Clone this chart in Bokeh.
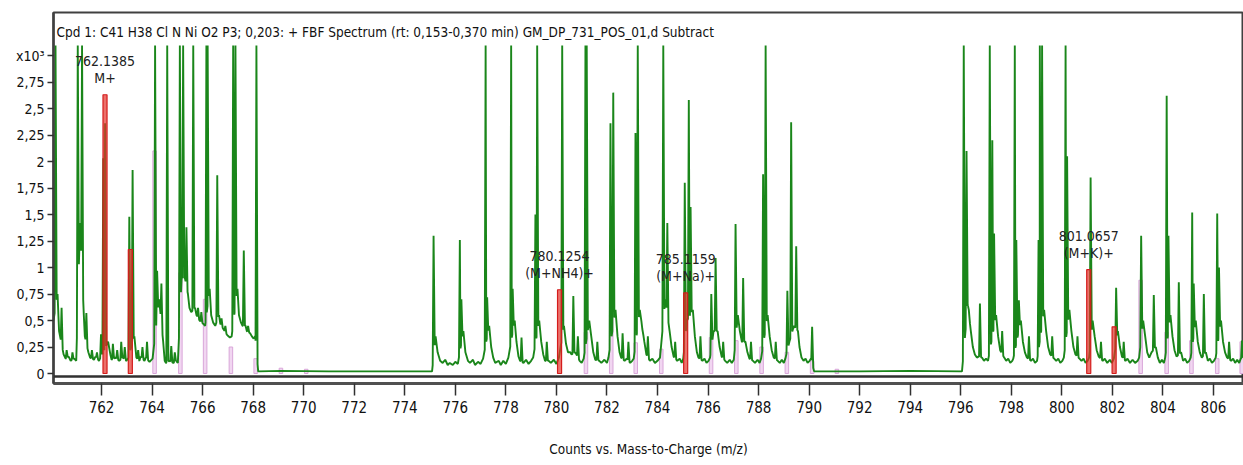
import numpy as np
from bokeh.plotting import figure
from bokeh.models import Range1d, Label, Span, FixedTicker, ColumnDataSource
from bokeh.embed import file_html
from bokeh.resources import INLINE
from bokeh.core.properties import value

FONT = "DejaVu Sans Condensed"

# ---------------- data ----------------
title_text = ("Cpd 1: C41 H38 Cl N Ni O2 P3; 0,203: + FBF Spectrum (rt: 0,153-0,370 min) "
              "GM_DP_731_POS_01,d  Subtract")
x_axis_title = "Counts vs. Mass-to-Charge (m/z)"

x_ticks = [762, 764, 766, 768, 770, 772, 774, 776, 778, 780, 782, 784, 786, 788, 790,
           792, 794, 796, 798, 800, 802, 804, 806]
y_ticks = [0, 0.25, 0.5, 0.75, 1, 1.25, 1.5, 1.75, 2, 2.25, 2.5, 2.75, 3]
y_tick_labels = ["0", "0,25", "0,5", "0,75", "1", "1,25", "1,5", "1,75", "2", "2,25",
                 "2,5", "2,75", "x10³"]

# profile spectrum: peak apexes (counts x10^3; 3.5 = off scale)
peak_mz = [760.18, 760.42, 760.62, 760.85, 761.06, 761.23, 761.4, 761.62, 761.82, 761.98,
           762.07, 762.14, 762.45, 762.62, 762.78, 762.92, 763.1, 763.23, 763.45, 763.62,
           763.8, 764.12, 764.2, 764.37, 764.6, 764.76, 764.9, 765.1, 765.23, 765.36,
           765.63, 765.82, 765.95, 766.15, 766.2, 766.58, 766.75, 766.9, 767.21, 767.3,
           767.63, 767.8, 768.13,
           775.14, 776.18, 776.24, 777.2, 777.26, 778.21, 778.27, 778.62, 779.17, 779.24,
           779.62, 780.23, 780.67, 780.85, 781.15, 781.2, 781.62, 782.14, 782.25, 782.62,
           782.85, 783.13, 783.22, 783.4, 783.62, 784.23, 784.39, 784.7, 785.08, 785.24,
           785.31, 785.7, 786.13, 786.3, 786.6, 787.09, 787.39, 787.7, 788.18, 788.28,
           788.68, 789.14, 789.29, 789.49, 790.12,
           796.12, 796.23, 796.32, 796.76, 797.15, 797.25, 797.32, 797.64, 798.14, 798.2,
           798.3, 798.7, 799.08, 799.13, 799.22, 799.62, 800.15, 800.21, 800.62, 801.14,
           801.55, 802.15, 802.45, 803.14, 803.64, 804.15, 804.22, 804.63, 805.16, 805.22,
           805.62, 806.15, 806.22, 806.62, 807.13]
peak_counts = [3.5, 0.62, 0.22, 0.2, 3.5, 3.5, 0.57, 0.22, 0.2, 0.37,
               2.03, 2.36, 0.28, 0.22, 0.3, 0.25, 1.48, 1.92, 0.22, 0.25,
               0.3, 3.5, 0.97, 0.85, 3.5, 0.26, 0.2, 3.5, 3.5, 1.38,
               3.5, 0.62, 0.58, 3.5, 3.5, 1.87, 0.52, 0.45, 3.5, 3.5,
               1.16, 0.45, 3.5,
               1.3, 1.26, 0.7, 3.5, 0.72, 3.5, 0.8, 0.34, 1.5, 3.5,
               0.3, 3.5, 0.73, 0.35, 3.5, 3.5, 0.3, 2.36, 2.65, 0.38,
               0.3, 2.27, 3.5, 0.42, 0.35, 3.5, 1.42, 0.3, 1.8, 2.58,
               1.57, 0.35, 0.75, 1.09, 0.3, 1.41, 0.9, 0.3, 1.88, 3.5,
               0.3, 0.78, 2.37, 1.2, 0.44,
               3.5, 2.1, 0.6, 0.66, 3.5, 2.2, 1.32, 0.4, 3.5, 1.26,
               0.69, 0.35, 1.26, 3.5, 3.5, 0.35, 3.5, 2.05, 0.35, 1.85,
               0.3, 0.81, 0.3, 1.3, 0.74, 2.62, 1.3, 0.86, 1.52, 0.85,
               0.75, 1.51, 1.0, 0.3, 0.31]

# profile spectrum: baseline / tails between peaks (counts x10^3)
baseline_mz = [760.10, 760.26, 760.32, 760.5, 760.58, 760.7, 760.78, 760.92, 761.0, 761.15,
               761.3, 761.34, 761.48, 761.55, 761.7, 761.76, 761.9, 762.26, 762.35, 762.4,
               762.55, 762.7, 762.85, 762.98, 763.05, 763.3, 763.38, 763.5, 763.55, 763.7,
               763.75, 763.9, 764.02, 764.28, 764.44, 764.5, 764.55, 764.68, 764.84, 764.95,
               765.02, 765.17, 765.3, 765.42, 765.48, 765.55, 765.7, 765.76, 765.88, 766.02,
               766.1, 766.28, 766.34, 766.42, 766.5, 766.65, 766.7, 766.82, 766.98, 767.08,
               767.15, 767.38, 767.44, 767.52, 767.58, 767.7, 767.75, 767.88, 767.95, 768.02,
               768.08, 768.2, 769.1, 771.0, 773.0, 775.08,
               775.22, 775.3, 775.4, 775.5, 775.6, 775.7, 775.78, 775.9, 776.0, 776.1,
               776.32, 776.4, 776.5, 776.58, 776.7, 776.78, 776.9, 777.0, 777.1, 777.34,
               777.42, 777.5, 777.58, 777.72, 777.8, 777.9, 778.0, 778.1, 778.35, 778.42,
               778.5, 778.56, 778.7, 778.8, 778.9, 779.0, 779.08, 779.32, 779.4, 779.48,
               779.55, 779.7, 779.78, 779.9, 780.0, 780.1, 780.3, 780.38, 780.46, 780.55,
               780.6, 780.75, 780.92, 781.0, 781.08, 781.3, 781.38, 781.46, 781.54, 781.7,
               781.78, 781.9, 782.0, 782.06, 782.34, 782.42, 782.5, 782.56, 782.7, 782.78,
               782.92, 783.0, 783.06, 783.3, 783.48, 783.56, 783.7, 783.8, 783.9, 784.0,
               784.1, 784.31, 784.48, 784.56, 784.64, 784.78, 784.88, 784.96, 785.02, 785.165,
               785.4, 785.48, 785.56, 785.62, 785.78, 785.86, 785.94, 786.02, 786.08, 786.22,
               786.38, 786.46, 786.54, 786.68, 786.76, 786.86, 786.94, 787.02, 787.18, 787.26,
               787.34, 787.48, 787.56, 787.64, 787.78, 787.86, 787.96, 788.04, 788.1, 788.36,
               788.44, 788.52, 788.6, 788.76, 788.84, 788.92, 789.0, 789.06, 789.22, 789.4,
               789.56, 789.62, 789.7, 789.78, 789.86, 789.94, 790.02, 790.07, 790.2, 792.0,
               794.0, 796.05,
               796.28, 796.4, 796.48, 796.56, 796.64, 796.7, 796.84, 796.92, 797.0, 797.08,
               797.4, 797.48, 797.56, 797.72, 797.8, 797.88, 797.96, 798.04, 798.08, 798.38,
               798.46, 798.54, 798.62, 798.78, 798.86, 798.94, 799.02, 799.3, 799.38, 799.46,
               799.54, 799.7, 799.78, 799.86, 799.94, 800.02, 800.08, 800.3, 800.38, 800.46,
               800.54, 800.7, 800.78, 800.86, 800.94, 801.02, 801.08, 801.22, 801.3, 801.38,
               801.46, 801.62, 801.7, 801.8, 801.9, 801.98, 802.06, 802.22, 802.3, 802.38,
               802.52, 802.6, 802.7, 802.8, 802.9, 803.0, 803.06, 803.22, 803.3, 803.38,
               803.46, 803.55, 803.72, 803.8, 803.88, 803.96, 804.04, 804.09, 804.3, 804.38,
               804.46, 804.54, 804.72, 804.8, 804.88, 804.96, 805.04, 805.1, 805.3, 805.38,
               805.46, 805.54, 805.7, 805.78, 805.86, 805.94, 806.02, 806.09, 806.3, 806.38,
               806.46, 806.54, 806.7, 806.78, 806.86, 806.94, 807.02, 807.08, 807.19]
baseline_counts = [0.5, 0.75, 0.4, 0.18, 0.14, 0.16, 0.12, 0.14, 0.12, 1.42,
                   0.55, 0.35, 0.2, 0.15, 0.13, 0.16, 0.12, 0.3, 0.18, 0.13,
                   0.15, 0.12, 0.15, 0.12, 0.14, 0.35, 0.15, 0.12, 0.16, 0.12,
                   0.15, 0.11, 0.14, 0.7, 0.3, 0.12, 0.1, 0.12, 0.1, 0.12,
                   0.1, 0.9, 0.9, 0.75, 0.62, 0.58, 0.62, 0.55, 0.5, 0.47,
                   0.45, 0.8, 0.55, 0.48, 0.45, 0.55, 0.47, 0.42, 0.36, 0.34,
                   0.35, 0.8, 0.55, 0.48, 0.45, 0.45, 0.4, 0.38, 0.35, 0.33,
                   0.35, 0.02, 0.025, 0.02, 0.02, 0.02,
                   0.35, 0.2, 0.12, 0.1, 0.13, 0.08, 0.1, 0.08, 0.11, 0.09,
                   0.4, 0.2, 0.12, 0.1, 0.13, 0.08, 0.11, 0.09, 0.14, 0.45,
                   0.25, 0.15, 0.1, 0.12, 0.08, 0.12, 0.09, 0.15, 0.5, 0.3,
                   0.16, 0.12, 0.1, 0.13, 0.09, 0.12, 0.15, 0.5, 0.3, 0.18,
                   0.12, 0.12, 0.1, 0.13, 0.09, 0.15, 0.45, 0.28, 0.2, 0.2,
                   0.18, 0.2, 0.12, 0.1, 0.14, 0.5, 0.35, 0.2, 0.13, 0.12,
                   0.1, 0.13, 0.1, 0.15, 0.6, 0.35, 0.2, 0.15, 0.12, 0.14,
                   0.1, 0.12, 0.14, 0.6, 0.3, 0.18, 0.12, 0.14, 0.1, 0.12,
                   0.15, 0.7, 0.4, 0.25, 0.16, 0.12, 0.14, 0.1, 0.14, 0.5,
                   0.6, 0.35, 0.2, 0.15, 0.12, 0.14, 0.1, 0.12, 0.15, 0.4,
                   0.4, 0.25, 0.16, 0.12, 0.1, 0.13, 0.1, 0.13, 0.55, 0.4,
                   0.3, 0.3, 0.2, 0.14, 0.12, 0.1, 0.13, 0.1, 0.14, 0.55,
                   0.35, 0.22, 0.15, 0.12, 0.1, 0.13, 0.1, 0.14, 0.3, 0.45,
                   0.4, 0.25, 0.15, 0.12, 0.14, 0.1, 0.12, 0.14, 0.02, 0.02,
                   0.025, 0.02,
                   0.65, 0.4, 0.25, 0.18, 0.15, 0.16, 0.15, 0.12, 0.14, 0.12,
                   0.55, 0.35, 0.22, 0.15, 0.12, 0.14, 0.1, 0.12, 0.14, 0.5,
                   0.3, 0.2, 0.15, 0.12, 0.14, 0.1, 0.12, 0.6, 0.4, 0.25,
                   0.18, 0.14, 0.12, 0.14, 0.1, 0.12, 0.15, 0.6, 0.4, 0.25,
                   0.18, 0.14, 0.12, 0.14, 0.1, 0.12, 0.15, 0.5, 0.35, 0.22,
                   0.16, 0.12, 0.14, 0.1, 0.13, 0.1, 0.14, 0.4, 0.25, 0.16,
                   0.12, 0.14, 0.1, 0.13, 0.1, 0.12, 0.15, 0.5, 0.35, 0.2,
                   0.15, 0.2, 0.25, 0.15, 0.1, 0.13, 0.1, 0.15, 0.55, 0.35,
                   0.22, 0.16, 0.2, 0.12, 0.14, 0.1, 0.12, 0.15, 0.5, 0.3,
                   0.2, 0.15, 0.2, 0.12, 0.14, 0.1, 0.12, 0.15, 0.5, 0.3,
                   0.2, 0.15, 0.12, 0.14, 0.1, 0.13, 0.1, 0.14, 0.15]

# theoretical isotope pattern of the identified compound (red bars)
isotope_mz = [762.1385, 763.14, 780.1254, 785.1159, 801.0657, 802.07]
isotope_counts = [2.63, 1.17, 0.79, 0.76, 0.98, 0.44]

# other spectrum centroids (lilac bars)
other_mz = [764.1, 765.12, 766.1, 767.12, 768.1, 769.1, 770.1, 781.17, 782.17, 783.14,
            784.15, 786.12, 787.12, 788.12, 789.12, 790.12, 791.1, 803.12, 804.15, 805.13,
            806.15, 807.12]
other_counts = [2.1, 0.95, 0.7, 0.25, 0.14, 0.05, 0.04, 0.39, 0.55, 0.29,
                0.23, 0.34, 0.31, 0.25, 0.2, 0.12, 0.04, 0.88, 0.39, 0.31,
                0.14, 0.3]

# annotated ions
ion_mz = [762.1385, 780.1254, 785.1159, 801.0657]
ion_counts = [2.63, 0.79, 0.76, 0.98]
ion_mass_text = ["762.1385", "780.1254", "785.1159", "801.0657"]
ion_species = ["M+", "(M+NH4)+", "(M+Na)+", "(M+K)+"]

# ---------------- rendering ----------------
CEIL = 3.094          # display ceiling of the data area (off-scale peaks are cut here)
HALF_L, HALF_R = 0.035, 0.045

bm = np.array(baseline_mz, dtype=float)
bc = np.array(baseline_counts, dtype=float)
pm = np.array(peak_mz, dtype=float)
ph = np.minimum(np.array(peak_counts, dtype=float), CEIL)

keep = np.ones(len(bm), dtype=bool)
for m in pm:
    keep &= ~((bm > m - HALF_L) & (bm < m + HALF_R))
xs = list(bm[keep])
ys = list(bc[keep])
for m, h in zip(pm, ph):
    for xx in (m - HALF_L, m + HALF_R):
        xs.append(xx)
        ys.append(float(np.interp(xx, bm, bc)))
    xs.append(m)
    ys.append(h)
xs = np.array(xs)
ys = np.array(ys)
order = np.argsort(xs, kind="stable")
xs, ys = xs[order], ys[order]

p = figure(width=1243, height=465,
           x_range=Range1d(760.1, 807.19), y_range=Range1d(-0.0943, 3.406),
           output_backend="svg", toolbar_location=None,
           min_border_left=53, min_border_right=0, min_border_top=12, min_border_bottom=82)
p.grid.visible = False
p.background_fill_color = "white"
p.border_fill_color = "white"
p.outline_line_color = "#404040"
p.outline_line_width = 2

# lilac centroid bars
p.quad(left=np.array(other_mz) - 0.07, right=np.array(other_mz) + 0.07,
       bottom=0, top=other_counts, fill_color="#f1d6f1", line_color="#d9a6d9", line_width=1)

# profile line
p.line(xs, ys, line_color="#1a861a", line_width=1.9)

# red isotope bars
p.quad(left=np.array(isotope_mz) - 0.08, right=np.array(isotope_mz) + 0.08,
       bottom=0, top=isotope_counts, fill_color="#e2352c", fill_alpha=0.7,
       line_color="#d41c1c", line_width=1.2)

# inner bottom border of the spectrum panel
p.add_layout(Span(location=-0.028, dimension="width", line_color="#303030", line_width=2.5))

src = ColumnDataSource(dict(x=ion_mz, y=ion_counts, mass=ion_mass_text, sp=ion_species))
p.text(x="x", y="y", text="mass", source=src, text_align="center", text_baseline="middle",
       y_offset=-34, text_font=value(FONT), text_font_size="14px", text_color="#222222")
p.text(x="x", y="y", text="sp", source=src, text_align="center", text_baseline="middle",
       y_offset=-17, text_font=value(FONT), text_font_size="14px", text_color="#222222")

p.add_layout(Label(x=760.22, y=3.22, text=title_text, text_baseline="middle",
                   text_font=FONT, text_font_size="13.5px", text_color="#111111"))

# axes
xa = p.xaxis[0]
xa.ticker = FixedTicker(ticks=x_ticks)
xa.axis_line_color = "#505050"
xa.axis_line_width = 3
xa.major_tick_line_color = "#303030"
xa.major_tick_line_width = 1.5
xa.major_tick_out = 12
xa.major_tick_in = 0
xa.minor_tick_line_color = None
xa.major_label_text_font = FONT
xa.major_label_text_font_size = "15px"
xa.major_label_text_color = "#111111"
xa.major_label_standoff = 5
xa.axis_label = x_axis_title
xa.axis_label_text_font = FONT
xa.axis_label_text_font_size = "13.5px"
xa.axis_label_text_font_style = "normal"
xa.axis_label_text_color = "#111111"
xa.axis_label_standoff = 25

ya = p.yaxis[0]
ya.ticker = FixedTicker(ticks=y_ticks)
ya.major_label_overrides = {t: s for t, s in zip(y_ticks, y_tick_labels)}
ya.axis_line_color = "#404040"
ya.axis_line_width = 2.5
ya.major_tick_line_color = "#303030"
ya.major_tick_line_width = 1.5
ya.major_tick_out = 6
ya.major_tick_in = 0
ya.minor_tick_line_color = None
ya.major_label_text_font = FONT
ya.major_label_text_font_size = "14px"
ya.major_label_text_color = "#111111"
ya.major_label_standoff = 3

open("out.html", "w").write(file_html(p, INLINE))
